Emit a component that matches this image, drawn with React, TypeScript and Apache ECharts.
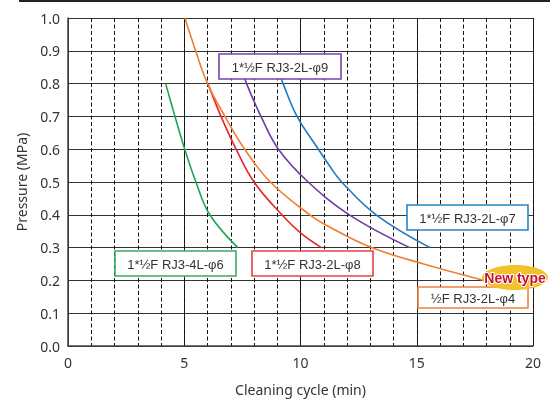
import React, { useEffect, useRef } from "react";
import * as echarts from "echarts";

// Pressure (MPa) vs cleaning cycle (min)
const phi6 = [[4.2, 0.8], [4.6, 0.7], [5.02, 0.6], [5.5, 0.5], [6.1, 0.4], [7.3, 0.3]];
const phi8 = [[6.02, 0.8], [6.58, 0.7], [7.23, 0.6], [8.0, 0.5], [9.2, 0.4], [10.0, 0.345], [10.9, 0.3]];
const phi4 = [[5.03, 1.0], [5.49, 0.9], [6.0, 0.8], [6.75, 0.7], [7.6, 0.6], [8.7, 0.5], [10.4, 0.4], [11.27, 0.362], [13.06, 0.3], [15.3, 0.25], [17.9, 0.2]];
const phi9 = [[7.55, 0.83], [7.68, 0.8], [8.3, 0.7], [9.05, 0.6], [10.33, 0.5], [12.1, 0.4], [14.7, 0.3]];
const phi7 = [[9.1, 0.83], [9.25, 0.8], [9.85, 0.7], [10.77, 0.6], [11.27, 0.547], [11.77, 0.5], [13.25, 0.4], [15.57, 0.3]];

const seriesNames = ["1*½F RJ3-4L-φ6", "1*½F RJ3-2L-φ8", "½F RJ3-2L-φ4", "1*½F RJ3-2L-φ9", "1*½F RJ3-2L-φ7"];
const seriesData = [phi6, phi8, phi4, phi9, phi7];
const seriesColors = ["#1aa655", "#e8232b", "#f07d32", "#6b3fa0", "#1f78c1"];
const boxBorders = ["#3aa86a", "#e2424c", "#f08040", "#7445a6", "#2a82c4"];

const xMin = 0, xMax = 20;
const yMin = 0, yMax = 1;

const FONT = '"Noto Sans", "Open Sans", sans-serif';
const LABEL_FONT = '13px "Liberation Sans", Arial, sans-serif';

function labelBox(text: string, x: number, y: number, w: number, h: number, stroke: string) {
  return {
    type: "group",
    z: 100,
    children: [
      { type: "rect", shape: { x, y, width: w, height: h }, style: { fill: "#fff", stroke, lineWidth: 1.6 }, z: 100 },
      { type: "text", x: x + w / 2, y: y + h / 2 + 0.5, z: 101, style: { text, fill: "#333", font: LABEL_FONT, align: "center", verticalAlign: "middle" } },
    ],
  };
}

export default function App() {
  const ref = useRef<HTMLDivElement>(null);
  useEffect(() => {
    const chart = echarts.init(ref.current!, null, { renderer: "svg" });
    chart.setOption({
      animation: false,
      grid: { left: 68, right: 17, top: 18, bottom: 55, containLabel: false },
      xAxis: [
        {
          type: "value", min: xMin, max: xMax, interval: 5,
          name: "Cleaning cycle (min)", nameLocation: "middle", nameGap: 36,
          nameTextStyle: { fontFamily: FONT, fontSize: 14, color: "#333" },
          axisLine: { show: true, lineStyle: { color: "#444", width: 1.5 } },
          axisTick: { show: false },
          axisLabel: { fontFamily: FONT, fontSize: 14, color: "#333", margin: 9 },
          splitLine: { show: true, lineStyle: { color: "#222", width: 1 } },
        },
        {
          type: "value", min: xMin, max: xMax, interval: 1, position: "bottom",
          axisLine: { show: false }, axisTick: { show: false }, axisLabel: { show: false },
          splitLine: { show: true, lineStyle: { color: "#111", width: 1, type: [4, 2.5] } },
        },
      ],
      yAxis: {
        type: "value", min: yMin, max: yMax, interval: 0.1,
        name: "Pressure (MPa)", nameLocation: "middle", nameGap: 40, nameRotate: 90,
        nameTextStyle: { fontFamily: FONT, fontSize: 14, color: "#333" },
        axisLine: { show: true, lineStyle: { color: "#444", width: 1.5 } },
        axisTick: { show: false },
        axisLabel: { fontFamily: FONT, fontSize: 14, color: "#333", margin: 8, formatter: (v: number) => v.toFixed(1) },
        splitLine: { show: true, lineStyle: { color: "#333", width: 1 } },
      },
      series: seriesData.map((d, i) => ({
        name: seriesNames[i],
        type: "line",
        xAxisIndex: 0,
        data: d,
        smooth: 0.4,
        symbol: "none",
        lineStyle: { color: seriesColors[i], width: 1.6 },
        z: 3,
      })),
      graphic: [
        { type: "line", shape: { x1: 19, y1: 1, x2: 550, y2: 1 }, style: { stroke: "#222", lineWidth: 2 } },
        labelBox(seriesNames[3], 219, 54, 122, 25, boxBorders[3]),
        labelBox(seriesNames[4], 407, 205, 121, 25, boxBorders[4]),
        labelBox(seriesNames[0], 115, 251, 121, 25, boxBorders[0]),
        labelBox(seriesNames[1], 252, 251, 121, 25, boxBorders[1]),
        labelBox(seriesNames[2], 418, 287, 110, 21, boxBorders[2]),
        {
          type: "group", z: 110,
          children: [
            { type: "ellipse", z: 110, shape: { cx: 515, cy: 277.5, rx: 33, ry: 12.5 }, style: { fill: "#f2c22c" } },
            { type: "text", z: 111, x: 515, y: 278, style: { text: "New type", fill: "#c8102e", font: 'bold 14px "Liberation Sans", Arial, sans-serif', align: "center", verticalAlign: "middle", stroke: "#fff", lineWidth: 2 } },
          ],
        },
      ],
    });
    return () => chart.dispose();
  }, []);
  return <div ref={ref} style={{ position: "fixed", left: 0, top: 0, width: 550, height: 401 }} />;
}
